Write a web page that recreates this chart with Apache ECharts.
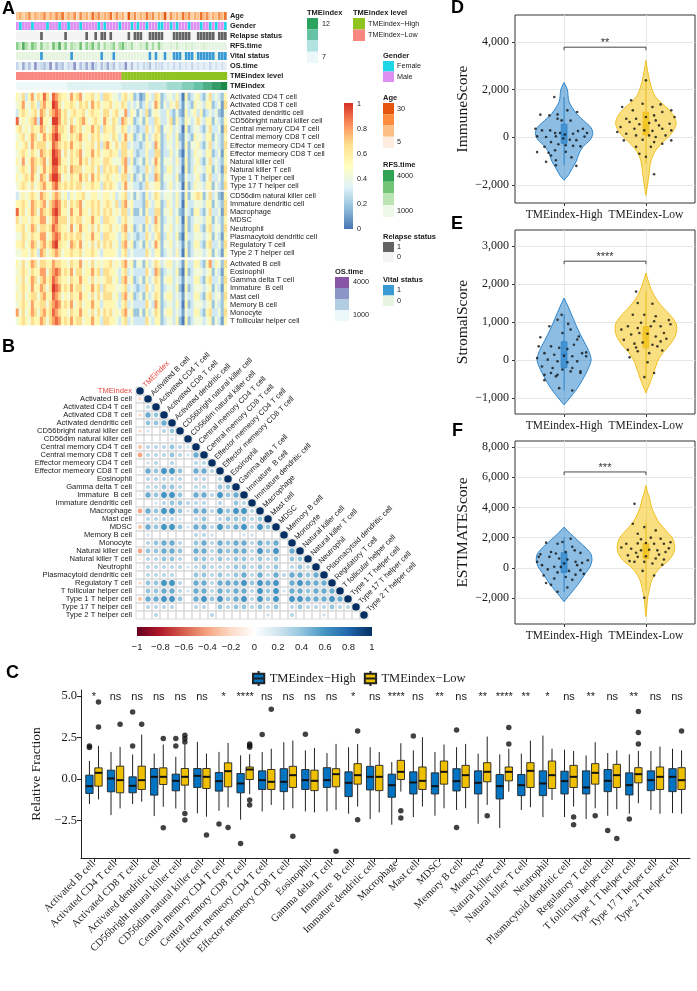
<!DOCTYPE html>
<html lang="en">
<head>
<meta charset="UTF-8">
<title>TMEindex immune landscape</title>
<script src="https://cdn.jsdelivr.net/npm/echarts@6/dist/echarts.min.js"></script>
<style>
  body { margin: 0; background: #fff; }
  #chart { width: 697px; height: 991px; }
</style>
</head>
<body>
<div id="chart"></div>
<script>
// ---------------- data ----------------
var nSamples = 70;

// panel A annotation tracks (one char per sample, left = low TMEindex)
var trackNames = ['Age', 'Gender', 'Relapse status', 'RFS.time', 'Vital status', 'OS.time', 'TMEindex level', 'TMEindex'];
var ageTrack     = '4635736457 3647583647 2746385746 5837462947 3648573649 2746385736 4857364758';
var genderTrack  = '0100010000 1000100100 0100000101 0000100010 1001000110 0101000100 0100101001';
var relapseTrack = '0000000010 0000001000 0001001011 0100000101 1100111110 0011111100 1111110111';
var rfsTrack     = '5374264152 3163725143 2615362514 2351463241 1325141521 1213112121 1121111111';
var vitalTrack   = '0000000010 0000000010 0000000010 0010000000 0000101001 0011101110 1111110111';
var osTrack      = '3152416234 2615341326 1425263142 5241326141 3132413231 2131312131 2121312121';
var levelTrack   = '0000000000 0000000000 0000000000 0000011111 1111111111 1111111111 1111111111';
var tmeTrack     = '0000000000 0000000111 1111111111 1111122222 2222333333 4444455556 6677788899';

// panel A heatmap: each digit is a level code, heatLevels gives its scaled value
var heatLevels = [0.02, 0.1, 0.19, 0.3, 0.42, 0.55, 0.67, 0.79, 0.9, 0.98];
var heatRows1 = ['Activated CD4 T cell', 'Activated CD8 T cell', 'Activated dendritic cell', 'CD56bright natural killer cell',
  'Central memory CD4 T cell', 'Central memory CD8 T cell', 'Effector memeory CD4 T cell', 'Effector memeory CD8 T cell',
  'Natural killer cell', 'Natural killer T cell', 'Type 1 T helper cell', 'Type 17 T helper cell'];
var heatValues1 = [
  '5463574658 6487655475 6745564536 6544356452 3125436523 4435305234 5324634325',
  '4574465367 5598645565 4656475645 5645465343 4235347524 3546314325 4435523416',
  '3565456476 4678756456 5564565546 6456447354 2436245433 5324215345 3523434214',
  '8454567385 5499756464 5675456547 5465376452 3425336533 4625325434 6435524325',
  '5645465576 4578665476 5645575636 5564465343 2336435624 4534305234 4324633416',
  '4564576457 5689755465 6755465645 5465357452 3425346523 5435214325 4435524325',
  '5456475666 4587656575 5645564636 7546466343 3235437523 4435315244 5324634326',
  '4565465476 5698746465 6745575645 5655366453 2335336623 3534204235 4435523415',
  '5474576567 4699755465 5756465546 6544467352 3425347524 4435315234 5324634325',
  '4565476457 5688656476 6645564636 5656357443 2336436523 5534305235 4435524316',
  '5456575476 4799745465 5756475645 6545466352 3425337624 4435214334 5324633425',
  '4565464567 5578656565 6645565536 5654357443 3236445523 4534305235 4435524326'
];
var heatRows2 = ['CD56dim natural killer cell', 'Immature dendritic cell', 'Macrophage', 'MDSC', 'Neutrophil',
  'Plasmacytoid dendritic cell', 'Regulatory T cell', 'Type 2 T helper cell'];
var heatValues2 = [
  '3454565476 5467645354 5564455445 5453456342 4325346534 4435315245 6524634215',
  '5565476567 4678756465 6745565645 6546367453 3326435523 5435305334 4435524326',
  '8564576476 5689755475 5755465646 5645466352 2425336624 4534214325 5324633416',
  '6455465577 4578666465 6645575536 6554356443 3336437523 4435305234 4435524325',
  '5564576466 5687655474 5755464645 5645467452 3425346524 4534315235 5325634426',
  '4465465577 4578756565 6645575536 6554356343 2336435623 5435205334 4434524315',
  '5564576467 5689655476 5745464646 5645367452 3425347524 4534314235 5325633426',
  '4455465376 4567645565 5645565435 5554356343 3336435523 4435305234 4434524315'
];
var heatRows3 = ['Activated B cell', 'Eosinophil', 'Gamma delta T cell', 'Immature  B cell', 'Mast cell',
  'Memory B cell', 'Monocyte', 'T follicular helper cell'];
var heatValues3 = [
  '5464576466 5576655465 5745464545 5645467452 4425346534 5534315335 5325735426',
  '4565465577 4678756574 6645575636 6554356343 3336437623 4435205234 4434524315',
  '5464576467 5687655465 5755464545 6645367452 3425346524 5534314335 5325633426',
  '4565475576 4698756575 6645575636 5554456343 2336435523 4435205234 4434524315',
  '5464566467 5587645465 5755464646 6645367452 3425346524 5534314335 5325634426',
  '4565475566 4678756574 5645575535 5554356343 3336437523 4435305234 4434524325',
  '7464576467 5687655465 5755464646 5645467452 2425346524 5534314335 5325633426',
  '4565465576 4678756575 6645575536 6554356343 3336435523 4435205234 4434524315'
];

// panel B correlation, lower triangle: '.' n.s., 1-9 => +0.1..0.9, a-e => -0.1..-0.5, X => 1
var corrNames = ['TMEindex', 'Activated B cell', 'Activated CD4 T cell', 'Activated CD8 T cell', 'Activated dendritic cell',
  'CD56bright natural killer cell', 'CD56dim natural killer cell', 'Central memory CD4 T cell', 'Central memory CD8 T cell',
  'Effector memeory CD4 T cell', 'Effector memeory CD8 T cell', 'Eosinophil', 'Gamma delta T cell', 'Immature  B cell',
  'Immature dendritic cell', 'Macrophage', 'Mast cell', 'MDSC', 'Memory B cell', 'Monocyte', 'Natural killer cell',
  'Natural killer T cell', 'Neutrophil', 'Plasmacytoid dendritic cell', 'Regulatory T cell', 'T follicular helper cell',
  'Type 1 T helper cell', 'Type 17 T helper cell', 'Type 2 T helper cell'];
var corrRows = [
  'X', 'bX', '.3X', 'b54X', '.445X', 'b2.34X', '....2.X', 'c333432X', 'd3334325X', '.23.3..33X',
  'a54664.553X', '.33333.33.3X', '.33443.33.44X', 'a54664.553645X', '..2344333.3.43X',
  'd54664255364663X', '.33332.34.344434X', 'c5466425536456364X', '.2.....332...22...X',
  '.34553.45354553545.X', 'd44554.55354553646.5X', 'a33443.44343443434.44X',
  'a33333234333443434.343X', '.3333..4434345353535545X', 'b44663.55355564656.56555X',
  '.445532553545536462554555X', 'c55664.56464563646.6655565X', '.3333..33.43443434.34333433X',
  '..3......3......2..3...2....X'
];

// panel C boxplots: [lower whisker, Q1, median, Q3, upper whisker]
var cellTypes = corrNames.slice(1);
var highBox = [[-1.5,-0.86,-0.42,0.24,1.1],[-2.16,-0.76,0.04,0.54,1.64],[-1.5,-0.82,-0.4,0.14,1.48],[-2.22,-0.96,0.14,0.64,1.54],
  [-1.76,-0.7,-0.1,0.3,1.34],[-2.06,-0.5,0.2,0.64,2.24],[-1.9,-0.72,-0.12,0.4,1.64],[-2.44,-0.82,-0.26,0.34,1.43],
  [-1.94,-0.62,-0.06,0.5,1.63],[-1.85,-0.75,-0.16,0.63,2.22],[-1.94,-0.62,-0.06,0.58,1.73],[-1.94,-0.5,-0.06,0.69,1.57],
  [-2.08,-1.05,-0.22,0.44,1.92],[-2.4,-0.65,0.14,0.77,1.92],[-2.74,-1.09,-0.36,0.3,1.03],[-2.28,-0.89,-0.2,0.44,1.73],
  [-2.2,-0.89,-0.42,0.38,1.63],[-1.85,-0.71,-0.12,0.63,1.92],[-2.68,-0.89,-0.22,0.5,1.53],[-2.94,-1.19,-0.42,0.28,1.49],
  [-1.85,-0.99,-0.36,0.28,1.53],[-2.28,-0.99,-0.26,0.5,2.62],[-2.28,-0.89,-0.12,0.48,1.77],[-2.4,-0.89,-0.5,0.5,1.43],
  [-2.2,-0.75,-0.1,0.58,1.57],[-2.08,-0.95,-0.36,0.38,1.49],[-1.85,-0.69,-0.06,0.5,1.69],[-2.04,-0.75,0.14,0.63,1.83]];
var lowBox = [[-1.22,-0.42,0.38,0.68,2.0],[-1.76,-0.82,-0.06,0.78,1.94],[-1.36,-0.62,-0.06,0.78,2.68],[-1.66,-0.32,0.14,0.68,2.08],
  [-1.86,-0.36,0.14,0.64,2.08],[-2.26,-0.56,0.14,0.64,1.54],[-1.7,-0.46,0.48,0.98,2.18],[-0.9,-0.02,0.58,0.73,1.5],
  [-1.55,-0.62,-0.16,0.58,1.83],[-1.75,-0.5,0.24,0.77,2.32],[-2.0,-0.69,-0.1,0.54,1.88],[-1.85,-0.46,0.3,0.63,2.12],
  [-1.65,-0.3,0.24,0.93,2.12],[-2.0,-0.69,0.14,0.83,1.63],[-0.75,-0.02,0.44,1.13,2.16],[-1.65,-0.62,-0.1,0.73,2.52],
  [-1.75,-0.3,0.44,1.09,2.08],[-1.75,-0.5,0.24,0.83,2.12],[-1.55,-0.16,0.44,0.99,2.56],[-0.75,-0.1,0.44,0.73,1.83],
  [-1.69,-0.5,0.5,0.99,2.32],[-1.25,-0.56,0.24,1.09,1.83],[-1.65,-0.5,0.14,0.83,1.69],[-1.75,-0.3,0.38,0.93,2.22],
  [-1.81,-0.5,0.24,0.89,1.73],[-1.45,-0.22,0.3,0.69,1.69],[-2.08,-0.62,0.14,0.73,1.96],[-2.08,-0.62,-0.06,0.69,1.73]];
// outliers: [category index, value]
var highOut = [[0,2.0],[0,1.9],[2,2.0],[2,4.04],[4,2.44],[4,2.0],[6,-2.7],[7,-3.87],[8,2.68],[10,2.7],[15,2.6],
  [17,2.95],[17,-2.9],[24,-3.08],[25,-2.4]];
var lowOut = [[0,4.64],[0,3.14],[1,3.3],[2,3.3],[3,2.44],[3,-2.92],[4,2.64],[4,2.44],[4,2.24],[4,-2.06],[4,-2.46],
  [5,-3.36],[6,-2.9],[7,2.12],[7,2.02],[7,1.92],[7,-1.25],[7,-1.55],[8,4.2],[9,-3.43],[11,-4.33],[12,2.9],[12,-2.44],
  [14,-1.9],[14,-2.34],[18,-2.2],[19,2.12],[19,3.1],[22,-2.28],[22,-2.74],[23,-2.2],[24,-3.57],[25,4.06],[25,2.8],
  [25,2.12],[27,2.9]];
var sigLabels = ['*','ns','ns','ns','ns','ns','*','****','ns','ns','ns','ns','*','ns','****','ns','**','ns','**','****',
  '**','*','ns','**','ns','**','ns','ns'];

// panels D-F: violin outlines [score, half width], boxes, jittered points [offset, score]
var violinGroups = ['TMEindex-High', 'TMEindex-Low'];
var immuneShapeHigh = [[2300,0],[2000,0.04],[1500,0.06],[1000,0.15],[700,0.24],[400,0.33],[150,0.35],[-100,0.32],[-400,0.23],[-700,0.18],[-1000,0.15],[-1300,0.10],[-1600,0.05],[-1800,0]];
var immuneShapeLow = [[3230,0],[2800,0.02],[2300,0.05],[1800,0.10],[1500,0.17],[1200,0.27],[900,0.34],[600,0.37],[300,0.34],[0,0.27],[-300,0.18],[-600,0.11],[-1000,0.06],[-1500,0.04],[-2000,0.02],[-2430,0]];
var immuneBox = [[-1170,-250,100,550,1690],[-1100,100,500,1050,2390]];
var immunePtsHigh = [[-0.12,1690],[-0.18,920],[-0.29,950],[-0.08,960],[0.04,1130],[0.16,1060],[-0.08,780],[-0.03,710],[0.08,700],[-0.35,360],[-0.27,290],[-0.17,290],[-0.11,180],[-0.05,180],[0.01,120],[0.11,150],[0.17,260],[0.23,360],[0.28,180],[-0.33,40],[-0.22,10],[-0.10,40],[-0.01,-50],[0.07,-100],[0.15,-120],[-0.16,-200],[-0.07,-290],[0.02,-330],[-0.24,-400],[0.11,-360],[-0.11,-540],[-0.19,-650],[0.02,-610],[-0.33,-620],[0.09,-840],[-0.10,-960],[-0.22,-1030],[-0.10,-1170],[0.15,-1200],[-0.16,-760],[0.20,-380],[0.25,30]];
var immunePtsLow = [[0,2390],[-0.18,1550],[-0.29,1270],[-0.04,1410],[0.08,1270],[0.18,1380],[0.31,1130],[0.2,1060],[-0.24,780],[-0.12,780],[0,850],[0.1,920],[-0.2,640],[-0.08,550],[0.04,600],[0.16,500],[0.29,570],[-0.31,430],[-0.14,360],[-0.02,290],[0.08,270],[0.2,360],[0.31,290],[-0.24,150],[-0.12,80],[0.04,80],[0.12,10],[0.24,80],[-0.27,-130],[-0.04,-100],[0.1,-200],[0.2,-270],[0.31,-130],[-0.12,-400],[0.06,-400],[-0.08,-690],[0,-820],[0.1,-1550],[-0.16,1130],[0.12,710],[-0.35,220],[0.35,850]];
var stromalShapeHigh = [[1630,0],[1400,0.05],[1100,0.11],[800,0.17],[500,0.24],[250,0.30],[0,0.33],[-250,0.29],[-500,0.23],[-750,0.16],[-1000,0.07],[-1180,0]];
var stromalShapeLow = [[2290,0],[2000,0.04],[1700,0.10],[1400,0.20],[1200,0.29],[950,0.37],[700,0.37],[450,0.31],[200,0.21],[0,0.15],[-300,0.10],[-600,0.05],[-870,0]];
var stromalBox = [[-800,-200,150,480,1200],[-500,320,680,880,1800]];
var stromalPtsHigh = [[-0.03,1190],[-0.08,1060],[0.08,800],[-0.02,710],[-0.18,890],[0.16,540],[-0.31,360],[-0.16,360],[-0.06,320],[0.04,290],[0.12,400],[0.18,620],[-0.24,180],[-0.12,140],[0,110],[0.1,100],[0.22,180],[-0.33,50],[-0.2,10],[-0.08,-35],[0.04,-60],[0.16,-35],[0.27,100],[-0.27,-170],[-0.14,-210],[-0.02,-250],[0.1,-210],[0.2,-300],[-0.24,-390],[-0.1,-430],[-0.16,-340],[-0.08,-390],[0.08,-300],[0.2,-340],[-0.06,-740],[0.1,-800],[-0.24,-530],[0.27,200],[-0.29,600],[0.05,950]];
var stromalPtsLow = [[-0.12,1800],[-0.1,1500],[0.08,1480],[-0.16,1190],[0.12,1150],[-0.02,1190],[-0.22,890],[-0.1,840],[0.06,890],[0.18,890],[-0.18,670],[-0.08,710],[0.02,690],[0.12,620],[0.22,710],[-0.27,530],[-0.14,430],[-0.04,460],[0.08,400],[0.18,490],[-0.22,270],[-0.1,230],[0.04,180],[0.14,360],[-0.2,70],[0.02,-60],[-0.02,-450],[0.1,-340],[0.3,940],[-0.3,800],[0.25,560],[0.28,1050],[-0.06,980],[0.1,1020],[-0.12,330],[0.2,250]];
var estimateShapeHigh = [[2700,0],[2300,0.07],[1800,0.17],[1300,0.27],[900,0.33],[500,0.34],[100,0.32],[-300,0.27],[-700,0.22],[-1100,0.17],[-1500,0.11],[-1900,0.05],[-2240,0]];
var estimateShapeLow = [[5450,0],[5000,0.02],[4500,0.05],[4000,0.07],[3500,0.11],[3000,0.16],[2500,0.24],[2000,0.32],[1500,0.35],[1000,0.34],[500,0.28],[0,0.17],[-500,0.10],[-1000,0.06],[-1500,0.04],[-2000,0.02],[-2700,0.01],[-3230,0]];
var estimateBox = [[-1600,-300,350,1000,2000],[-1500,620,1100,1600,3000]];
var estimatePtsHigh = [[0.08,1930],[-0.02,1710],[-0.22,1670],[-0.08,1600],[-0.16,1050],[-0.1,950],[0.02,1050],[0.13,1160],[0.2,990],[-0.31,730],[-0.18,730],[-0.06,620],[0.04,550],[0.14,400],[0.22,330],[-0.27,180],[-0.12,70],[0,290],[0.16,180],[0.29,500],[-0.33,400],[-0.2,-100],[-0.08,-300],[0.06,-200],[0.2,-150],[-0.25,-500],[-0.12,-700],[0.02,-600],[0.14,-450],[-0.16,-1120],[-0.08,-1580],[-0.22,-1000],[0.1,-790],[0.04,-1300],[-0.04,66],[0.24,-400],[-0.29,900],[0.1,1400]];
var estimatePtsLow = [[-0.14,4240],[-0.16,2920],[-0.02,2700],[-0.1,2260],[0.12,2480],[0.18,1930],[-0.24,1600],[-0.1,1620],[0,1650],[0.1,1600],[0.22,1600],[-0.18,1270],[-0.06,1160],[0.04,1200],[0.14,1160],[0.24,1050],[-0.22,830],[-0.1,730],[0,770],[0.12,620],[0.22,550],[-0.14,400],[-0.02,400],[0.08,290],[0.3,1700],[-0.3,1350],[0.28,1300],[-0.06,1900],[0.06,2000],[-0.2,450],[0.16,880],[-0.04,-200],[0.1,-500],[-0.02,-1980],[0.2,200],[-0.12,1000]];

// ---------------- helpers ----------------
var sans = '"Liberation Sans", Arial, sans-serif';
var serif = '"Liberation Serif", "Times New Roman", serif';

var heatColors = ['#4575b4', '#91bfdb', '#e0f3f8', '#ffffbf', '#fee090', '#fc8d59', '#d73027'];
var rdbu = ['#67001F', '#B2182B', '#D6604D', '#F4A582', '#FDDBC7', '#FFFFFF', '#D1E5F0', '#92C5DE', '#4393C3', '#2166AC', '#053061'];
var ageRamp = ['#fff5eb', '#fdd0a2', '#fdae6b', '#e6550d'];
var rfsRamp = ['#f2faf0', '#c7e9c0', '#74c476', '#238b45'];
var osRamp = ['#f3f8fc', '#c6d9ec', '#8c96c6', '#7b3294'];
var tmeRamp = ['#eef8f9', '#bfe6e3', '#66c2a4', '#1b8a4a'];
var blue = '#0073C2', yellow = '#EFC000';

function hexRgb(h) {
  h = h.replace('#', '');
  return [parseInt(h.substr(0, 2), 16), parseInt(h.substr(2, 2), 16), parseInt(h.substr(4, 2), 16)];
}
function ramp(list, t) {
  t = Math.max(0, Math.min(1, t));
  var p = t * (list.length - 1);
  var i = Math.min(Math.floor(p), list.length - 2), f = p - i;
  var a = hexRgb(list[i]), b = hexRgb(list[i + 1]);
  return 'rgb(' + a.map(function (c, k) { return Math.round(c + (b[k] - c) * f); }).join(',') + ')';
}
function digits(s) {
  s = s.replace(/\s+/g, '');
  var out = [];
  for (var i = 0; i < nSamples; i++) out.push(i < s.length ? +s.charAt(i) : 4);
  return out;
}
function seq(n) { var a = []; for (var i = 0; i < n; i++) a.push(String(i)); return a; }
function corrValue(ch) {
  if (ch === 'X') return 1;
  if (ch >= '0' && ch <= '9') return +ch / 10;
  var k = 'abcde'.indexOf(ch);
  return k >= 0 ? -(k + 1) / 10 : null;
}
function fmtK(v) {
  var s = String(Math.abs(Math.round(v))).replace(/\B(?=(\d{3})+(?!\d))/g, ',');
  return (v < 0 ? '\u2212' : '') + s;
}

// ---------------- layout pieces ----------------
var grids = [], xAxes = [], yAxes = [], series = [], graphics = [];

function addGrid(left, top, width, height, show) {
  grids.push({ left: left, top: top, width: width, height: height, containLabel: false, outerBoundsMode: 'none',
    show: !!show, borderColor: '#333', borderWidth: 1, backgroundColor: 'transparent' });
  return grids.length - 1;
}
function hiddenCat(gi, n) {
  return { type: 'category', gridIndex: gi, data: seq(n), boundaryGap: true, axisLine: { show: false },
    axisTick: { show: false }, axisLabel: { show: false }, splitLine: { show: false } };
}
function labelCat(gi, names, bold, pos) {
  return { type: 'category', gridIndex: gi, data: names, inverse: true, position: pos || 'right',
    axisLine: { show: false }, axisTick: { show: false }, splitLine: { show: false },
    axisLabel: { interval: 0, margin: 3, fontSize: 7.4, fontFamily: sans, fontWeight: bold ? 'bold' : 'normal', color: '#1a1a1a' } };
}
function gText(x, y, text, font, fill, align) {
  graphics.push({ type: 'text', x: x, y: y, silent: true,
    style: { text: text, font: font, fill: fill || '#1a1a1a', align: align || 'left', verticalAlign: 'middle',
      textAlign: align || 'left', textVerticalAlign: 'middle' } });
}
function gRect(x, y, w, h, fill) {
  graphics.push({ type: 'rect', silent: true, shape: { x: x, y: y, width: w, height: h }, style: { fill: fill } });
}
function legendBlock(x, y, title, colors, w, h, labels, labelX) {
  gText(x, y, title, 'bold 7.5px ' + sans);
  colors.forEach(function (c, i) { gRect(x, y + 5 + i * h, w, h, c); });
  labels.forEach(function (l) { gText(labelX, y + 5 + (l[0] + 0.5) * h, l[1], '7.2px ' + sans); });
}

// ---------------- panel A ----------------
var gTrack = addGrid(16, 11, 211, 80);
xAxes.push(hiddenCat(gTrack, nSamples));
yAxes.push(labelCat(gTrack, trackNames, true));
var trackStrings = [ageTrack, genderTrack, relapseTrack, rfsTrack, vitalTrack, osTrack, levelTrack, tmeTrack];
function trackColor(row, v) {
  switch (row) {
    case 0: return ramp(ageRamp, v / 9);
    case 1: return v ? '#1ed6e6' : '#de8ff2';
    case 2: return v ? '#646464' : '#f3f3f3';
    case 3: return ramp(rfsRamp, v / 9);
    case 4: return v ? '#3a9bd4' : '#e6f4df';
    case 5: return ramp(osRamp, v / 9);
    case 6: return v ? '#8fc31f' : '#f8877f';
    default: return ramp(tmeRamp, v / 9);
  }
}
var trackData = [];
trackStrings.forEach(function (s, r) {
  digits(s).forEach(function (v, c) { trackData.push([c, r, v]); });
});
series.push({
  type: 'custom', xAxisIndex: gTrack, yAxisIndex: gTrack, silent: true, data: trackData,
  renderItem: function (params, api) {
    var c = api.value(0), r = api.value(1), v = api.value(2);
    var p = api.coord([c, r]), s = api.size([1, 1]);
    var sep = (r === 6 || r === 7) ? 0 : 0.5;
    return { type: 'rect', shape: { x: p[0] - s[0] / 2, y: p[1] - 4, width: s[0] - sep + 0.2, height: 8 },
      style: { fill: trackColor(r, v) } };
  }
});

var heatBlocks = [[heatRows1, heatValues1, 93, 97], [heatRows2, heatValues2, 192, 65], [heatRows3, heatValues3, 260, 65]];
var heatSeriesIdx = [];
heatBlocks.forEach(function (b) {
  var gi = addGrid(16, b[2], 211, b[3]);
  xAxes.push(hiddenCat(gi, nSamples));
  yAxes.push(labelCat(gi, b[0], false));
  var data = [];
  b[1].forEach(function (s, r) {
    digits(s).forEach(function (v, c) { data.push([c, r, heatLevels[v]]); });
  });
  heatSeriesIdx.push(series.length);
  series.push({ type: 'heatmap', xAxisIndex: gi, yAxisIndex: gi, data: data, silent: true, progressive: 0 });
});

// panel A legends
legendBlock(307, 13, 'TMEindex', ['#2ca25f', '#66c2a4', '#b2e2e2', '#edf8fb'], 11, 11.25, [[0, '12'], [3, '7']], 322);
legendBlock(353, 13, 'TMEindex level', ['#8fc31f', '#f8877f'], 12, 11.5, [[0, 'TMEindex\u2212High'], [1, 'TMEindex\u2212Low']], 368);
legendBlock(383, 56, 'Gender', ['#1ed6e6', '#de8ff2'], 11, 10.5, [[0, 'Female'], [1, 'Male']], 397);
legendBlock(383, 98, 'Age', ['#e6550d', '#fd8d3c', '#fdbe85', '#feedde'], 11, 11.25, [[0, '30'], [3, '5']], 397);
legendBlock(383, 165, 'RFS.time', ['#31a354', '#74c476', '#bae4b3', '#edf8e9'], 11, 11.75, [[0, '4000'], [3, '1000']], 397);
legendBlock(383, 237, 'Relapse status', ['#646464', '#f3f3f3'], 11, 10, [[0, '1'], [1, '0']], 397);
legendBlock(383, 280, 'Vital status', ['#3a9bd4', '#e6f4df'], 11, 10.5, [[0, '1'], [1, '0']], 397);
legendBlock(335, 272, 'OS.time', ['#8856a7', '#8c96c6', '#b3cde3', '#edf8fb'], 14, 11, [[0, '4000'], [3, '1000']], 353);
graphics.push({ type: 'rect', silent: true, shape: { x: 344, y: 103, width: 9, height: 126 },
  style: { fill: new echarts.graphic.LinearGradient(0, 0, 0, 1, heatColors.slice().reverse().map(function (c, i, a) {
    return { offset: i / (a.length - 1), color: c }; })) } });
['1', '0.8', '0.6', '0.4', '0.2', '0'].forEach(function (t, i) { gText(357, 104 + i * 25, t, '7.2px ' + sans); });

// ---------------- panel B ----------------
var gCorr = addGrid(136, 387, 232, 232);
xAxes.push(hiddenCat(gCorr, corrNames.length));
var corrY = labelCat(gCorr, corrNames, false, 'left');
corrY.axisLabel.margin = 4;
corrY.axisLabel.fontSize = 7.6;
corrY.axisLabel.formatter = function (v) { return v === 'TMEindex' ? '{r|' + v + '}' : v; };
corrY.axisLabel.rich = { r: { color: '#e8473b', fontSize: 7.6, fontFamily: sans } };
yAxes.push(corrY);
var corrData = [];
corrNames.forEach(function (n, r) {
  var row = corrRows[r] || '';
  for (var c = 0; c <= r; c++) {
    var v = c === r ? 1 : corrValue(row.charAt(c));
    corrData.push([c, r, v === null ? 0 : v, v === null ? 0 : 1]);
  }
});
series.push({
  type: 'custom', xAxisIndex: gCorr, yAxisIndex: gCorr, silent: true, data: corrData,
  renderItem: function (params, api) {
    var c = api.value(0), r = api.value(1), v = api.value(2), on = api.value(3);
    var p = api.coord([c, r]), s = api.size([1, 1]);
    var kids = [{ type: 'rect', shape: { x: p[0] - s[0] / 2, y: p[1] - s[1] / 2, width: s[0], height: s[1] },
      style: { fill: 'none', stroke: '#d0d0d0', lineWidth: 0.7 } }];
    if (on) kids.push({ type: 'circle', shape: { cx: p[0], cy: p[1], r: Math.sqrt(Math.abs(v)) * s[0] * 0.47 },
      style: { fill: ramp(rdbu, (v + 1) / 2) } });
    if (c === r) kids.push({ type: 'text', x: p[0] + 4, y: p[1] - 4.5, rotation: Math.PI / 4,
      style: { text: corrNames[c], fill: c === 0 ? '#e8473b' : '#1a1a1a', fontSize: 7.6, fontFamily: sans,
        align: 'left', verticalAlign: 'middle' } });
    return { type: 'group', children: kids };
  }
});
var gBar = addGrid(137, 627, 235, 9);
xAxes.push({ type: 'value', gridIndex: gBar, min: -1, max: 1, interval: 0.2,
  axisLine: { show: false, onZero: false }, axisTick: { show: false }, splitLine: { show: false },
  axisLabel: { margin: 6, fontSize: 9.5, fontFamily: sans, color: '#1a1a1a',
    formatter: function (v) { var r = Math.round(v * 10) / 10; return r === 0 ? '0' : (r < 0 ? '\u2212' : '') + Math.abs(r); } } });
yAxes.push({ type: 'value', gridIndex: gBar, min: 0, max: 1, show: false });
series.push({
  type: 'custom', xAxisIndex: gBar, yAxisIndex: gBar, silent: true, data: [[-1, 0]],
  renderItem: function (params, api) {
    var a = api.coord([-1, 1]), b = api.coord([1, 0]);
    return { type: 'rect', shape: { x: a[0], y: a[1], width: b[0] - a[0], height: b[1] - a[1] },
      style: { fill: new echarts.graphic.LinearGradient(0, 0, 1, 0, rdbu.map(function (c, i) {
        return { offset: i / (rdbu.length - 1), color: c }; })) } };
  }
});

// ---------------- panel C ----------------
var gBox = addGrid(81, 690, 609, 168);
var catTicks = cellTypes.map(function (n, i) { return i + 1; });
xAxes.push({ type: 'value', gridIndex: gBox, min: 0.4, max: 28.6,
  axisLine: { show: true, onZero: false, lineStyle: { color: '#222', width: 1 } },
  axisTick: { show: true, customValues: catTicks, length: 4, lineStyle: { color: '#222' } },
  axisLabel: { customValues: catTicks, rotate: 45, margin: 4, fontFamily: serif, fontSize: 10.5, color: '#1a1a1a',
    hideOverlap: false, formatter: function (v) { return cellTypes[Math.round(v) - 1] || ''; } },
  splitLine: { show: false } });
yAxes.push({ type: 'value', gridIndex: gBox, min: -4.74, max: 5.36,
  axisLine: { show: true, onZero: false, lineStyle: { color: '#222', width: 1 } },
  axisTick: { show: true, customValues: [-2.5, 0, 2.5, 5], length: 4, lineStyle: { color: '#222' } },
  axisLabel: { customValues: [-2.5, 0, 2.5, 5], margin: 4, fontFamily: serif, fontSize: 12.5, color: '#1a1a1a',
    formatter: function (v) { return (v < 0 ? '\u2212' : '') + Math.abs(v).toFixed(1); } },
  splitLine: { show: false },
  name: 'Relative Fraction', nameLocation: 'middle', nameGap: 34,
  nameTextStyle: { fontFamily: serif, fontSize: 13.5, color: '#1a1a1a' } });

function boxRender(offset, fill, halfW, edge) {
  return function (params, api) {
    var x = api.value(0) + offset;
    var w = api.size([halfW * 2, 0])[0];
    var lo = api.coord([x, api.value(1)]), q1 = api.coord([x, api.value(2)]), md = api.coord([x, api.value(3)]);
    var q3 = api.coord([x, api.value(4)]), hi = api.coord([x, api.value(5)]);
    return { type: 'group', children: [
      { type: 'line', shape: { x1: hi[0], y1: hi[1], x2: q3[0], y2: q3[1] }, style: { stroke: edge, lineWidth: 1 } },
      { type: 'line', shape: { x1: q1[0], y1: q1[1], x2: lo[0], y2: lo[1] }, style: { stroke: edge, lineWidth: 1 } },
      { type: 'rect', shape: { x: q3[0] - w / 2, y: q3[1], width: w, height: q1[1] - q3[1] },
        style: { fill: fill, stroke: edge, lineWidth: 0.9 } },
      { type: 'line', shape: { x1: md[0] - w / 2, y1: md[1], x2: md[0] + w / 2, y2: md[1] },
        style: { stroke: edge === '#222' ? '#111' : edge, lineWidth: edge === '#222' ? 2 : 1.2 } }
    ] };
  };
}
var boxIcon = 'path://M6,0 V3 M0,3 H12 V13 H0 Z M0,8 H12 M6,13 V16';
series.push({ name: 'TMEindex\u2212High', type: 'custom', xAxisIndex: gBox, yAxisIndex: gBox, silent: true,
  itemStyle: { color: blue, borderColor: '#222', borderWidth: 1 },
  data: highBox.map(function (b, i) { return [i + 1].concat(b); }), renderItem: boxRender(-0.21, blue, 0.17, '#222') });
series.push({ name: 'TMEindex\u2212Low', type: 'custom', xAxisIndex: gBox, yAxisIndex: gBox, silent: true,
  itemStyle: { color: yellow, borderColor: '#222', borderWidth: 1 },
  data: lowBox.map(function (b, i) { return [i + 1].concat(b); }), renderItem: boxRender(0.21, yellow, 0.17, '#222') });
series.push({ type: 'scatter', xAxisIndex: gBox, yAxisIndex: gBox, silent: true, symbolSize: 5.5,
  itemStyle: { color: '#111' }, data: highOut.map(function (o) { return [o[0] + 1 - 0.21, o[1]]; }) });
series.push({ type: 'scatter', xAxisIndex: gBox, yAxisIndex: gBox, silent: true, symbolSize: 5.5,
  itemStyle: { color: '#111' }, data: lowOut.map(function (o) { return [o[0] + 1 + 0.21, o[1]]; }) });
series.push({ type: 'custom', xAxisIndex: gBox, yAxisIndex: gBox, silent: true,
  data: sigLabels.map(function (s, i) { return [i + 1, 5]; }),
  renderItem: function (params, api) {
    var p = api.coord([api.value(0), api.value(1)]);
    return { type: 'text', x: p[0], y: p[1] + 1, style: { text: sigLabels[params.dataIndex], fill: '#1a1a1a',
      fontSize: 11, fontFamily: sans, align: 'center', verticalAlign: 'middle' } };
  } });

// ---------------- panels D-F ----------------
var vFill = ['rgba(47,134,204,0.55)', 'rgba(245,197,24,0.55)'];
var vEdge = ['#2f86cc', '#f0c020'];
var vBoxFill = ['rgba(47,134,204,0.75)', 'rgba(240,192,20,0.8)'];
function violinPanel(top, height, name, yMin, yMax, ticks, shapes, boxes, pts, sigY, sigText) {
  var gi = addGrid(515, top, 180, height, true);
  xAxes.push({ type: 'value', gridIndex: gi, min: 0.4, max: 2.6,
    axisLine: { show: false, onZero: false },
    axisTick: { show: true, customValues: [1, 2], length: 3, lineStyle: { color: '#333' } },
    axisLabel: { customValues: [1, 2], margin: 6, fontFamily: serif, fontSize: 11.5, color: '#1a1a1a', hideOverlap: false,
      showMinLabel: true, showMaxLabel: true,
      formatter: function (v) { return violinGroups[Math.round(v) - 1] || ''; } },
    splitLine: { show: true, lineStyle: { color: '#e6e6e6', width: 1 } } });
  yAxes.push({ type: 'value', gridIndex: gi, min: yMin, max: yMax,
    axisLine: { show: false, onZero: false },
    axisTick: { show: true, customValues: ticks, length: 3, lineStyle: { color: '#333' } },
    axisLabel: { customValues: ticks, margin: 6, fontFamily: serif, fontSize: 12, color: '#1a1a1a', formatter: fmtK },
    splitLine: { show: true, lineStyle: { color: '#e6e6e6', width: 1 } },
    name: name, nameLocation: 'middle', nameGap: 37, nameTextStyle: { fontFamily: serif, fontSize: 15.5, color: '#1a1a1a' } });
  series.push({ type: 'custom', xAxisIndex: gi, yAxisIndex: gi, silent: true, data: [[1, 0], [2, 0]],
    renderItem: function (params, api) {
      var g = api.value(0), shape = shapes[g - 1], p = [];
      shape.forEach(function (d) { p.push(api.coord([g + d[1], d[0]])); });
      for (var i = shape.length - 1; i >= 0; i--) p.push(api.coord([g - shape[i][1], shape[i][0]]));
      return { type: 'polygon', shape: { points: p, smooth: 0.3 },
        style: { fill: vFill[g - 1], stroke: vEdge[g - 1], lineWidth: 1 } };
    } });
  series.push({ type: 'custom', xAxisIndex: gi, yAxisIndex: gi, silent: true,
    data: boxes.map(function (b, i) { return [i + 1].concat(b); }),
    renderItem: function (params, api) {
      var k = params.dataIndex;
      return boxRender(0, vBoxFill[k], 0.035, vEdge[k])(params, api);
    } });
  pts.forEach(function (list, k) {
    series.push({ type: 'scatter', xAxisIndex: gi, yAxisIndex: gi, silent: true, symbolSize: 2.6,
      itemStyle: { color: '#111' }, data: list.map(function (d) { return [k + 1 + d[0], d[1]]; }) });
  });
  series.push({ type: 'custom', xAxisIndex: gi, yAxisIndex: gi, silent: true, data: [[1.5, sigY]],
    renderItem: function (params, api) {
      var y = api.value(1), a = api.coord([1, y]), b = api.coord([2, y]);
      return { type: 'group', children: [
        { type: 'polyline', shape: { points: [[a[0], a[1] + 3], [a[0], a[1]], [b[0], b[1]], [b[0], b[1] + 3]] },
          style: { stroke: '#333', fill: 'none', lineWidth: 0.9 } },
        { type: 'text', x: (a[0] + b[0]) / 2, y: a[1] - 4, style: { text: sigText, fill: '#333', fontSize: 11,
          fontFamily: sans, align: 'center', verticalAlign: 'middle' } }
      ] };
    } });
}
violinPanel(15, 188, 'ImmuneScore', -2755, 5130, [-2000, 0, 2000, 4000],
  [immuneShapeHigh, immuneShapeLow], immuneBox, [immunePtsHigh, immunePtsLow], 3780, '**');
violinPanel(230, 184, 'StromalScore', -1420, 3420, [-1000, 0, 1000, 2000, 3000],
  [stromalShapeHigh, stromalShapeLow], stromalBox, [stromalPtsHigh, stromalPtsLow], 2600, '****');
violinPanel(441, 183, 'ESTIMATEScore', -3716, 8400, [-2000, 0, 2000, 4000, 6000, 8000],
  [estimateShapeHigh, estimateShapeLow], estimateBox, [estimatePtsHigh, estimatePtsLow], 6350, '***');

// panel letters
[['A', 2, 9], ['B', 2, 347], ['C', 6, 673], ['D', 451, 8], ['E', 451, 224], ['F', 452, 431]].forEach(function (l) {
  gText(l[1], l[2], l[0], 'bold 18px ' + sans, '#000');
});

// ---------------- chart ----------------
var chart = echarts.init(document.getElementById('chart'), null, { renderer: 'canvas' });
chart.setOption({
  animation: false,
  backgroundColor: '#fff',
  grid: grids,
  xAxis: xAxes,
  yAxis: yAxes,
  visualMap: [{ type: 'continuous', show: false, min: 0, max: 1, seriesIndex: heatSeriesIdx,
    inRange: { color: heatColors } }],
  legend: [{ data: ['TMEindex\u2212High', 'TMEindex\u2212Low'], left: 247, top: 665, icon: boxIcon,
    itemWidth: 12, itemHeight: 15, itemGap: 8, selectedMode: false,
    textStyle: { fontFamily: serif, fontSize: 12.5, color: '#1a1a1a' } }],
  graphic: { elements: graphics },
  series: series
});
</script>
</body>
</html>
